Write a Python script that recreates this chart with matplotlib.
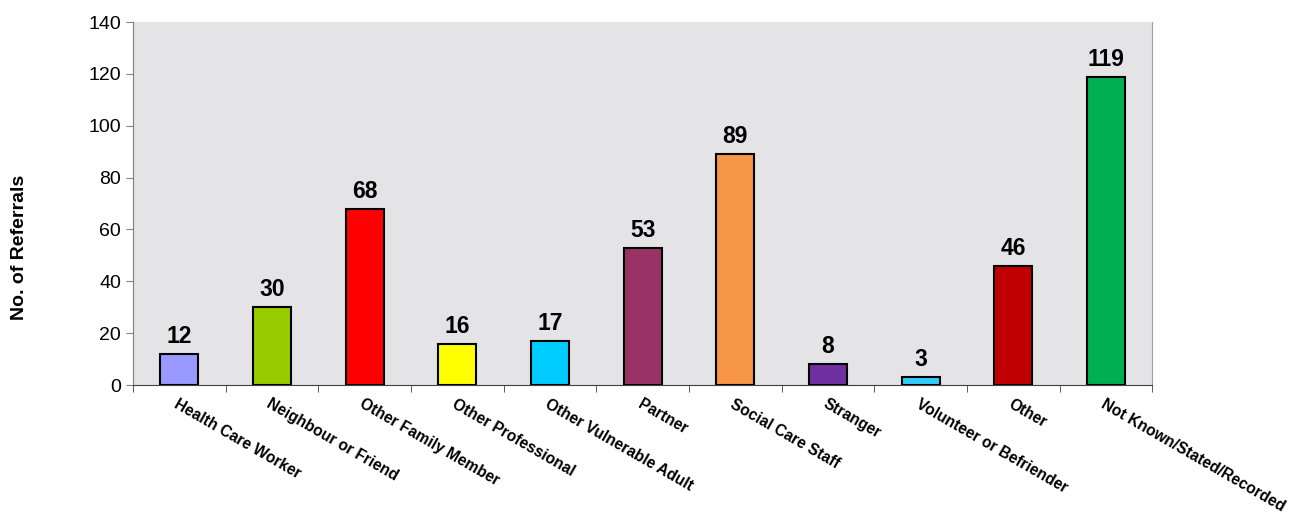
import matplotlib.pyplot as plt
import numpy as np

plt.rcParams['font.family'] = ['Liberation Sans', 'DejaVu Sans']

# data
categories = ['Health Care Worker', 'Neighbour or Friend', 'Other Family Member',
              'Other Professional', 'Other Vulnerable Adult', 'Partner',
              'Social Care Staff', 'Stranger', 'Volunteer or Befriender',
              'Other', 'Not Known/Stated/Recorded']
referrals = [12, 30, 68, 16, 17, 53, 89, 8, 3, 46, 119]
colours = ['#9999FF', '#99CC00', '#FF0000', '#FFFF00', '#00CCFF', '#993366',
           '#F79646', '#7030A0', '#33CCFF', '#C00000', '#00B050']

fig = plt.figure(figsize=(12.97, 5.15), dpi=100)
ax = fig.add_axes([0.1025, 0.2524, 0.7860, 0.7046])
ax.set_facecolor('#e4e4e6')

x = np.arange(len(categories))
bars = ax.bar(x, referrals, width=0.41, color=colours, edgecolor='black', linewidth=1.5, zorder=3)

for b, v in zip(bars, referrals):
    ax.text(b.get_x() + b.get_width() / 2, v + 2.3, str(v), ha='center', va='bottom',
            fontsize=16.5, fontweight='bold')

ax.set_xlim(-0.5, len(categories) - 0.5)
ax.set_ylim(0, 140)
ax.set_yticks(range(0, 141, 20))
ax.tick_params(axis='y', labelsize=14, direction='out', length=5, color='#808080')

# category labels at centres, ticks at boundaries
ax.set_xticks(x)
ax.set_xticklabels(categories, rotation=-30, ha='left', va='top', rotation_mode='anchor',
                   fontsize=11.2, fontweight='bold')
ax.tick_params(axis='x', length=0, pad=8)
ax.set_xticks(np.arange(-0.5, len(categories), 1), minor=True)
ax.tick_params(axis='x', which='minor', length=5, direction='out', color='#404040')

ax.set_ylabel('No. of Referrals', fontsize=14, fontweight='bold', va='center')
ax.yaxis.set_label_coords(-0.111, 0.38)

ax.spines['top'].set_visible(False)
ax.spines['left'].set_color('#808080')
ax.spines['right'].set_color('#a0a0a0')
ax.spines['bottom'].set_color('#404040')

fig.savefig('out.png', dpi=100)
